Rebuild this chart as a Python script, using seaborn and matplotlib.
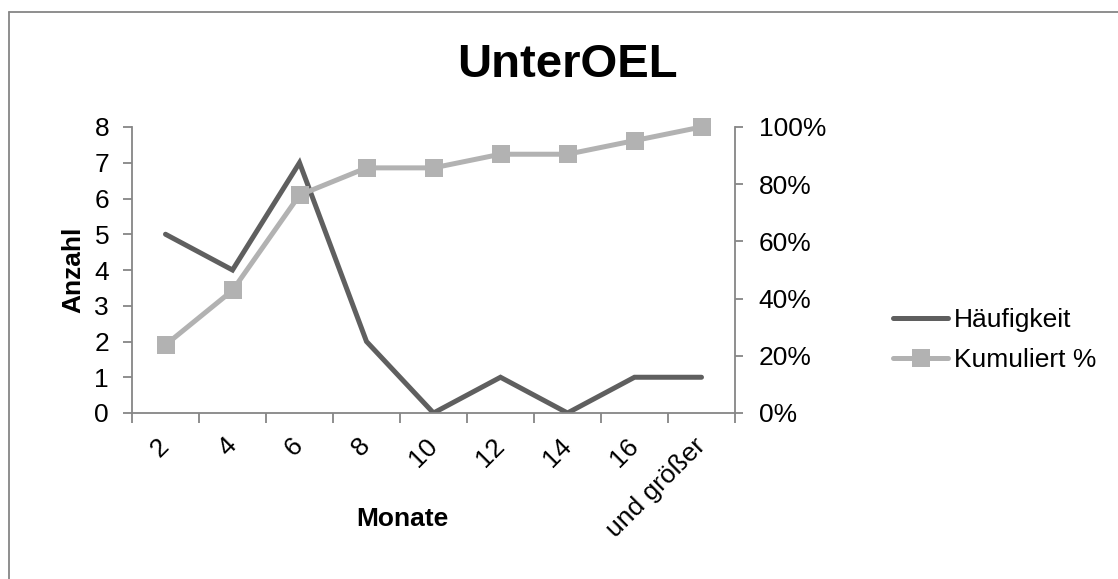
import matplotlib
matplotlib.use("Agg")
import matplotlib.pyplot as plt
import seaborn as sns
import numpy as np
import pandas as pd
from matplotlib.lines import Line2D
from matplotlib.ticker import PercentFormatter, FixedLocator

# data
categories = ["2", "4", "6", "8", "10", "12", "14", "16", "und größer"]
haeufigkeit = [5, 4, 7, 2, 0, 1, 0, 1, 1]
kumuliert = [0.2381, 0.4286, 0.7619, 0.8571, 0.8571, 0.9048, 0.9048, 0.9524, 1.0]

DARK = "#5f5f5f"
LIGHT = "#b2b2b2"
AXIS = "#868686"

sns.set_style("white")
plt.rcParams["font.family"] = ["Liberation Sans", "DejaVu Sans"]
plt.rcParams["text.color"] = "black"
plt.rcParams["axes.labelcolor"] = "black"
plt.rcParams["xtick.labelcolor"] = "black"
plt.rcParams["ytick.labelcolor"] = "black"

df = pd.DataFrame({
    "pos": np.arange(len(categories)),
    "Häufigkeit": haeufigkeit,
    "Kumuliert %": kumuliert,
})

fig = plt.figure(figsize=(11.18, 5.79), dpi=100)
ax = fig.add_axes([132 / 1118, 1 - 413 / 579, 603 / 1118, 286 / 579])
ax2 = ax.twinx()

sns.lineplot(data=df, x="pos", y="Häufigkeit", ax=ax, color=DARK, linewidth=3.6,
             solid_capstyle="round", solid_joinstyle="miter", sort=False)
sns.lineplot(data=df, x="pos", y="Kumuliert %", ax=ax2, color=LIGHT, linewidth=3.6,
             marker="s", markersize=13, markeredgewidth=0, sort=False, clip_on=False)

ax.set_xlim(-0.5, len(categories) - 0.5)
ax.set_ylim(0, 8)
ax2.set_ylim(0, 1)
ax.set_yticks(range(0, 9))
ax2.set_yticks(np.linspace(0, 1, 6))
ax2.yaxis.set_major_formatter(PercentFormatter(1.0, decimals=0))

ax.set_xticks(np.arange(len(categories)))
ax.set_xticklabels(categories, rotation=45, ha="right", va="center", rotation_mode="anchor")
ax.xaxis.set_minor_locator(FixedLocator(np.arange(len(categories) + 1) - 0.5))
ax.tick_params(axis="x", which="major", length=0, pad=21, labelsize=19, labelcolor="black")
ax.tick_params(axis="x", which="minor", length=7, width=1.3, color=AXIS, direction="out", bottom=True)
ax.tick_params(axis="y", length=6.5, width=1.3, color=AXIS, direction="out", pad=10, labelsize=19,
               left=True, labelcolor="black")
ax2.tick_params(axis="y", length=6, width=1.3, color=AXIS, direction="out", pad=11, labelsize=19,
                right=True, labelcolor="black")

for a in (ax, ax2):
    a.spines["top"].set_visible(False)
    for s in a.spines.values():
        s.set_color(AXIS)
        s.set_linewidth(1.3)
    a.grid(False)
ax.spines["right"].set_visible(False)
ax2.spines["left"].set_visible(False)
ax2.spines["bottom"].set_visible(False)

ax.set_xlabel("Monate", fontsize=19, fontweight="bold", color="black")
ax.xaxis.set_label_coords(0.449, -0.33)
ax.set_ylabel("Anzahl", fontsize=19, fontweight="bold", color="black")
ax.yaxis.set_label_coords(-0.077, 0.5)
ax2.set_ylabel("")

fig.text(567 / 1118, 1 - 77 / 579, "UnterOEL", fontsize=34, fontweight="bold",
         ha="center", va="baseline", color="black")

handles = [
    Line2D([], [], color=DARK, linewidth=3.6, solid_capstyle="round"),
    Line2D([], [], color=LIGHT, linewidth=3.6, marker="s", markersize=13, markeredgewidth=0),
]
fig.legend(handles, ["Häufigkeit", "Kumuliert %"], loc="center left",
           bbox_to_anchor=(893 / 1118, 1 - 340 / 579), frameon=False, fontsize=19,
           handlelength=2.1, handletextpad=0.2, labelspacing=0.6, borderpad=0, borderaxespad=0,
           labelcolor="black")

# chart area border (only top and left edges visible in the reference)
fig.add_artist(Line2D([9 / 1118, 1.0], [1 - 12 / 579, 1 - 12 / 579], color=AXIS, linewidth=1.3,
                      transform=fig.transFigure))
fig.add_artist(Line2D([9 / 1118, 9 / 1118], [0.0, 1 - 12 / 579], color=AXIS, linewidth=1.3,
                      transform=fig.transFigure))

fig.savefig("out.png", dpi=100)
plt.close(fig)
